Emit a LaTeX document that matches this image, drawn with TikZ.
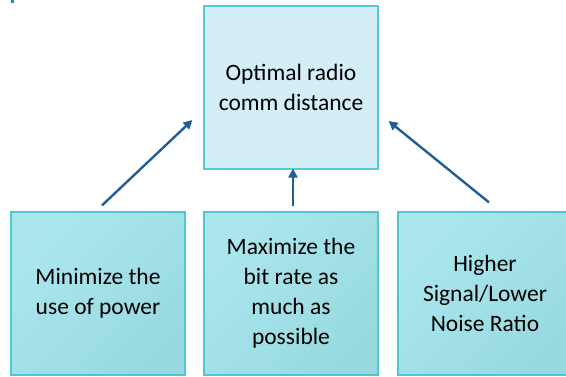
\documentclass[tikz,border=0pt]{standalone}
\usepackage{fontspec}
\setmainfont{Carlito}
\usetikzlibrary{arrows.meta,calc}
\definecolor{topfill}{HTML}{D4EEF8}
\definecolor{topedge}{HTML}{52CCD8}
\definecolor{botlight}{HTML}{ABE6EE}
\definecolor{botdark}{HTML}{98DAE0}
\definecolor{botedge}{HTML}{4CC8D0}
\definecolor{arrowcol}{HTML}{1F5E96}
\definecolor{markcol}{HTML}{1E88C8}
\begin{document}
\begin{tikzpicture}[x=1pt,y=-1pt,
  boxbase/.style={minimum width=174pt,minimum height=163pt,inner sep=0pt,
    align=center,font=\fontsize{23.5}{30}\selectfont,line width=1.2pt},
  topbox/.style={boxbase,draw=topedge,fill=topfill},
  botbox/.style={boxbase,draw=botedge,top color=botlight,bottom color=botdark,shading angle=45},
  conn/.style={draw=arrowcol,line width=2.4pt,-{Triangle[length=9pt,width=9pt]}}]
\useasboundingbox (0,0) rectangle (566,376);
\clip (0,0) rectangle (566,376);
\fill[markcol] (11,0) rectangle (14,2.5);
\node[topbox] (top) at (291,87.5) {Optimal radio\\comm distance};
\node[botbox] (b1) at (98,293.5) {Minimize the\\use of power};
\node[botbox] (b2) at (291,293.5) {Maximize the\\bit rate as\\much as\\possible};
\node[botbox] (b3) at (485,293.5) {Higher\\Signal/Lower\\Noise Ratio};
\coordinate (s1) at ($(b1.north)+(4,-6)$);
\coordinate (e1) at ($(top.west)+(-11,32.5)$);
\coordinate (s2) at ($(b2.north)+(2,-5)$);
\coordinate (e2) at ($(top.south)+(2,-1)$);
\coordinate (s3) at ($(b3.north)+(4,-9)$);
\coordinate (e3) at ($(top.east)+(10,33.5)$);
\draw[conn] (s1) -- (e1);
\draw[conn] (s2) -- (e2);
\draw[conn] (s3) -- (e3);
\end{tikzpicture}
\end{document}
